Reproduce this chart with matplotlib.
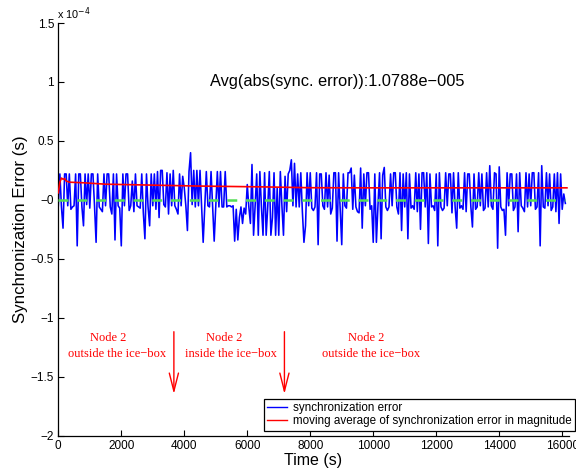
import numpy as np
import matplotlib
matplotlib.use("Agg")
import matplotlib.pyplot as plt
from matplotlib.ticker import FuncFormatter

plt.rcParams['font.family'] = ['Liberation Sans', 'DejaVu Sans']

# sync error samples, one every 50 s, in units of 1e-5 s
dt = 50
err_e5 = [
    -0.5, 2.2, -0.6, -2.4, 2.2, 2.2, -0.5, 2.2, -0.8, -0.6, -0.5, 2.2, -3.9, 2.2, 2.2, -0.6, -2.2, 2.2, -0.4, 2.2,
    -0.7, 2.2, 2.2, -0.5, -3.6, 2.2, -0.6, -0.8, -1.0, 2.2, -0.5, 2.2, 2.2, -0.6, -1.2, 2.2, -3.4, 2.2, -0.5, -0.7,
    -3.9, 2.2, -0.5, 2.2, 2.2, -0.9, -0.5, 1.6, -1.0, 2.2, -0.5, -0.6, -0.7, 2.2, -1.1, -3.3, 2.2, -0.6, -2.2, 2.2,
    -0.5, 2.2, -0.8, 2.4, -1.5, 2.5, 2.5, -0.4, -0.6, 2.3, -1.2, 2.2, -0.5, 2.5, -0.5, -0.8, -1.2, 2.2, -0.5, 2.0,
    1.0, -0.5, -2.6, 2.4, 4.0, -0.4, 2.5, -0.6, 2.5, -0.5, 2.5, -0.6, -3.6, -0.5, 2.4, -0.5, -0.6, 2.4, -0.5, -3.5,
    -0.5, 2.4, -0.6, 2.4, -0.6, -0.6, 2.4, -0.6, -0.5, -0.5, -0.6, -0.5, -3.5, -0.8, -3.4, -1.5, -0.6, -2.0, -0.7, -1.2,
    1.3, -0.6, -2.0, 3.0, -3.0, -0.5, 2.2, -3.0, 2.4, -0.6, -3.0, 2.3, -3.0, -0.6, 2.4, -3.0, -1.5, 2.3, -3.0, 1.0,
    -3.0, 2.4, -0.5, -3.0, 2.0, -1.0, 2.2, 2.5, 3.4, -0.5, 3.1, -0.6, 2.2, -0.6, 2.3, -1.0, -3.6, -2.2, 2.3, -0.5,
    2.3, -0.7, -0.9, -0.6, 2.3, -3.8, 2.2, 2.2, -0.5, -0.8, 2.3, -0.6, 2.1, -1.2, -0.7, 2.3, 2.3, -3.5, 2.3, -0.7,
    -3.8, 2.2, -0.5, -0.7, 2.3, 2.3, 2.7, -0.8, 2.1, -0.6, -1.0, -1.1, 2.7, -2.4, 2.2, -0.5, 2.3, 2.3, -0.8, -0.5,
    -3.6, 2.2, -3.6, -0.5, 2.3, -3.3, 2.1, 2.75, -0.6, -0.9, -0.6, 2.2, -0.5, 2.3, 2.3, -0.6, -1.2, 2.3, -2.6, 2.2,
    -0.6, 2.3, -3.3, 2.2, -0.7, -0.5, -0.8, 2.3, -1.0, 2.2, -2.5, 2.3, 2.3, -0.6, 2.3, -3.7, 2.2, -0.6, -0.5, -0.9,
    2.2, -3.9, 2.3, -0.6, -0.9, -0.7, 2.3, -0.5, 2.2, 2.2, -1.1, 2.3, -0.6, -2.4, 2.3, -0.7, -0.5, -0.8, 2.3, -1.0,
    2.2, 2.2, -0.6, -2.3, 2.2, -0.8, -0.6, 2.3, -0.5, 2.2, -0.9, -0.7, 2.3, -0.6, 2.9, -0.5, -0.8, 2.3, 2.2, -4.1,
    2.8, -0.6, -0.9, -0.8, -3.0, 2.3, -0.5, 2.2, 2.2, -0.9, -0.6, 2.2, -2.7, 2.3, -0.5, -0.7, -1.0, 2.3, -0.6, 2.2,
    -0.5, 2.3, 2.3, -0.8, -0.6, 2.3, -3.9, 2.9, -0.6, -0.7, 2.3, -0.5, 2.2, -0.9, -0.6, 2.2, -1.0, 2.3, -2.0, 2.2,
    -0.8, 0.5, -0.3,
]

# moving average of |error| (1e-5 s)
avg_t = [0, 50, 100, 150, 200, 250, 350, 800, 1500, 3000, 4500, 6500, 8000, 10000, 16150]
avg_e5 = [0.6, 1.5, 1.85, 1.75, 1.8, 1.6, 1.5, 1.45, 1.33, 1.25, 1.17, 1.1, 1.03, 1.02, 1.02]

arrow_t = [3670, 7180]
arrow_top, arrow_tip = -1.118e-4, -1.646e-4

t = np.arange(len(err_e5)) * dt
err = np.array(err_e5) * 1e-5
avg = np.array(avg_e5) * 1e-5

fig = plt.figure(figsize=(5.76, 4.75), dpi=100)
ax = fig.add_axes([58.3/576, 1-435.7/475, (568.5-58.3)/576, (435.7-23)/475])

ax.plot(t, err, color='blue', lw=1.15, label='synchronization error')
ax.plot(avg_t, avg, color='red', lw=1.2, label='moving average of synchronization error in magnitude', zorder=4)
ax.plot([0, t[-1]], [0, 0], color='#55dd55', lw=1.8, ls=(0, (4, 3.5)), zorder=3)

ax.set_xlim(0, 16200)
ax.set_ylim(-2e-4, 1.5e-4)
ax.set_xticks(np.arange(0, 16001, 2000))
ax.set_yticks(np.arange(-2e-4, 1.51e-4, 0.5e-4))
ax.yaxis.set_major_formatter(FuncFormatter(lambda v, p: ('%g' % round(v / 1e-4, 2)).replace('-', '\u2212')))
ax.tick_params(direction='in', length=4, width=0.8, labelsize=8.5, pad=3)
for s in ['top', 'right']:
    ax.spines[s].set_visible(False)
for s in ['left', 'bottom']:
    ax.spines[s].set_linewidth(0.9)

ax.set_xlabel('Time (s)', fontsize=11.5, labelpad=1)
ax.set_ylabel('Synchronization Error (s)', fontsize=12.2, labelpad=2)
ax.text(-0.003, 1.003, 'x 10$^{\u22124}$', transform=ax.transAxes, fontsize=7.8, va='bottom', ha='left')

ax.text(8865, 1.0e-4, 'Avg(abs(sync. error)):1.0788e\u2212005', fontsize=11.8, ha='center', va='center')

serif = ['Liberation Serif', 'DejaVu Serif']
notes = [(1570, 'Node 2', 'outside the ice\u2212box', 1880),
         (5260, 'Node 2', 'inside the ice\u2212box', 5480),
         (9785, 'Node 2', 'outside the ice\u2212box', 9930)]
for x1, l1, l2, x2 in notes:
    ax.text(x1, -1.175e-4, l1, color='red', family=serif, fontsize=9, ha='center', va='center')
    ax.text(x2, -1.31e-4, l2, color='red', family=serif, fontsize=9, ha='center', va='center')
for xa in arrow_t:
    ax.annotate('', xy=(xa, arrow_tip), xytext=(xa, arrow_top),
                arrowprops=dict(arrowstyle='->,head_length=1.3,head_width=0.33', color='red', lw=1,
                                shrinkA=0, shrinkB=0))

leg = ax.legend(loc='lower right', bbox_to_anchor=(575/576, 1-430.7/475), bbox_transform=fig.transFigure,
                fontsize=8.35, frameon=True, fancybox=False, framealpha=1, edgecolor='black',
                borderpad=0.3, labelspacing=0.1, handlelength=1.7, handletextpad=0.5, borderaxespad=0)
leg.get_frame().set_linewidth(0.9)
for ln in leg.get_lines():
    ln.set_linewidth(1.0)

fig.savefig('out.png', dpi=100)
